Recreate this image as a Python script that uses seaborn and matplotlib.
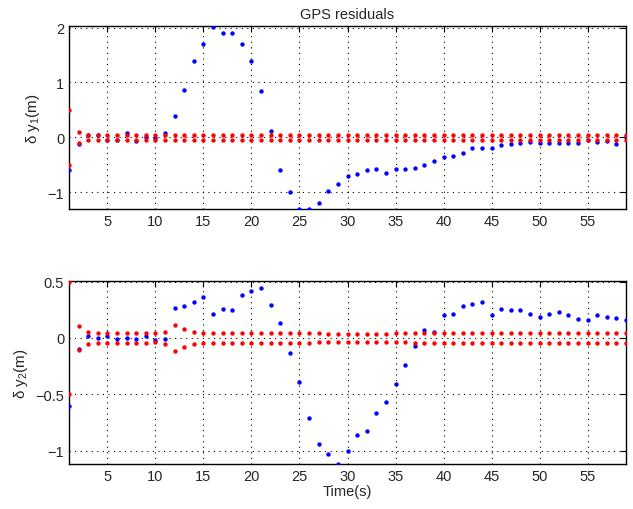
import matplotlib
matplotlib.use("Agg")
import numpy as np
import pandas as pd
import matplotlib.pyplot as plt
import seaborn as sns

# -- data
time_s = list(range(1, 60))

res_y1 = [-0.59, -0.12, 0.04, 0.04, -0.04, -0.04, 0.07, -0.07, 0.00, -0.02,
          0.08, 0.38, 0.87, 1.39, 1.70, 2.02, 1.90, 1.90, 1.71, 1.40,
          0.84, 0.11, -0.59, -0.99, -1.31, -1.31, -1.19, -0.98, -0.85, -0.70,
          -0.67, -0.59, -0.57, -0.65, -0.57, -0.58, -0.56, -0.51, -0.44, -0.36,
          -0.35, -0.28, -0.20, -0.20, -0.19, -0.14, -0.12, -0.11, -0.09, -0.10,
          -0.11, -0.10, -0.10, -0.10, -0.04, -0.08, -0.06, -0.13, 0.00]

bound_y1 = [0.50, 0.10, 0.045, 0.045, 0.045, 0.045, 0.045, 0.045, 0.045, 0.045,
            0.045, 0.05, 0.045, 0.045, 0.045, 0.045, 0.045, 0.045, 0.045, 0.045,
            0.045, 0.045, 0.045, 0.045, 0.045, 0.045, 0.045, 0.045, 0.045, 0.045,
            0.045, 0.045, 0.045, 0.045, 0.045, 0.045, 0.045, 0.045, 0.045, 0.045,
            0.045, 0.045, 0.045, 0.045, 0.045, 0.045, 0.045, 0.045, 0.045, 0.045,
            0.045, 0.045, 0.045, 0.045, 0.045, 0.045, 0.045, 0.045, 0.045]

res_y2 = [-0.60, -0.095, 0.015, 0.00, 0.02, -0.01, 0.00, -0.01, 0.02, -0.015,
          -0.01, 0.27, 0.28, 0.32, 0.36, 0.21, 0.26, 0.25, 0.38, 0.42,
          0.445, 0.29, 0.13, -0.13, -0.39, -0.71, -0.94, -1.03, -1.12, -1.00,
          -0.865, -0.83, -0.67, -0.57, -0.41, -0.24, -0.07, 0.07, 0.05, 0.20,
          0.21, 0.28, 0.30, 0.32, 0.20, 0.26, 0.25, 0.245, 0.21, 0.19,
          0.21, 0.23, 0.20, 0.165, 0.16, 0.20, 0.185, 0.175, 0.16]

bound_y2 = [0.50, 0.105, 0.05, 0.045, 0.045, 0.045, 0.045, 0.045, 0.045, 0.04,
            0.055, 0.115, 0.08, 0.057, 0.045, 0.045, 0.045, 0.045, 0.045, 0.045,
            0.045, 0.045, 0.045, 0.045, 0.045, 0.045, 0.04, 0.038, 0.035, 0.035,
            0.035, 0.035, 0.035, 0.038, 0.04, 0.04, 0.045, 0.045, 0.045, 0.045,
            0.045, 0.045, 0.045, 0.045, 0.045, 0.045, 0.045, 0.045, 0.045, 0.045,
            0.045, 0.045, 0.045, 0.045, 0.045, 0.045, 0.045, 0.045, 0.045]

sns.set_style("white")
plt.rcParams['font.family'] = ['Liberation Sans', 'DejaVu Sans']
plt.rcParams['axes.unicode_minus'] = True
plt.rcParams['mathtext.fontset'] = 'custom'
plt.rcParams['mathtext.rm'] = 'Liberation Sans'
plt.rcParams['mathtext.it'] = 'Liberation Sans'
plt.rcParams['mathtext.default'] = 'regular'

fig = plt.figure(figsize=(6.33, 5.10), dpi=100)
ax1 = fig.add_axes([0.109, 0.588, 0.880, 0.359])
ax2 = fig.add_axes([0.109, 0.088, 0.880, 0.359])


def panel(ax, res, bound, ylim, yticks, ylabel):
    df = pd.DataFrame({"t": time_s, "res": res, "bound": bound})
    df["neg"] = -df["bound"]
    sns.scatterplot(data=df, x="t", y="res", ax=ax, color="#0000ff", s=10,
                    linewidth=0, zorder=3)
    sns.scatterplot(data=df, x="t", y="bound", ax=ax, color="#ff0000", s=10,
                    linewidth=0, zorder=3)
    sns.scatterplot(data=df, x="t", y="neg", ax=ax, color="#ff0000", s=10,
                    linewidth=0, zorder=3)
    ax.set_xlim(1, 59)
    ax.set_ylim(*ylim)
    ax.set_xticks(range(5, 60, 5))
    ax.set_yticks(yticks)
    ax.set_ylabel(ylabel, fontsize=11)
    ax.set_xlabel("")
    ax.grid(True, linestyle=(0, (1, 4)), color="black", linewidth=0.8)
    ax.tick_params(direction="in", top=True, right=True, length=4,
                   labelsize=10.5, width=0.8, color="black")
    for sp in ax.spines.values():
        sp.set_color("black")
        sp.set_linewidth(1.0)


panel(ax1, res_y1, bound_y1, (-1.31, 2.03), [-1, 0, 1, 2], "\u03b4 y$_1$(m)")
ax1.set_title("GPS residuals", fontsize=10.5)

panel(ax2, res_y2, bound_y2, (-1.12, 0.505), [-1, -0.5, 0, 0.5],
      "\u03b4 y$_2$(m)")
ax2.set_yticklabels(["\u22121", "\u22120.5", "0", "0.5"])
ax2.set_xlabel("Time(s)", fontsize=10.5, labelpad=1)

fig.savefig("out.png", dpi=100)
